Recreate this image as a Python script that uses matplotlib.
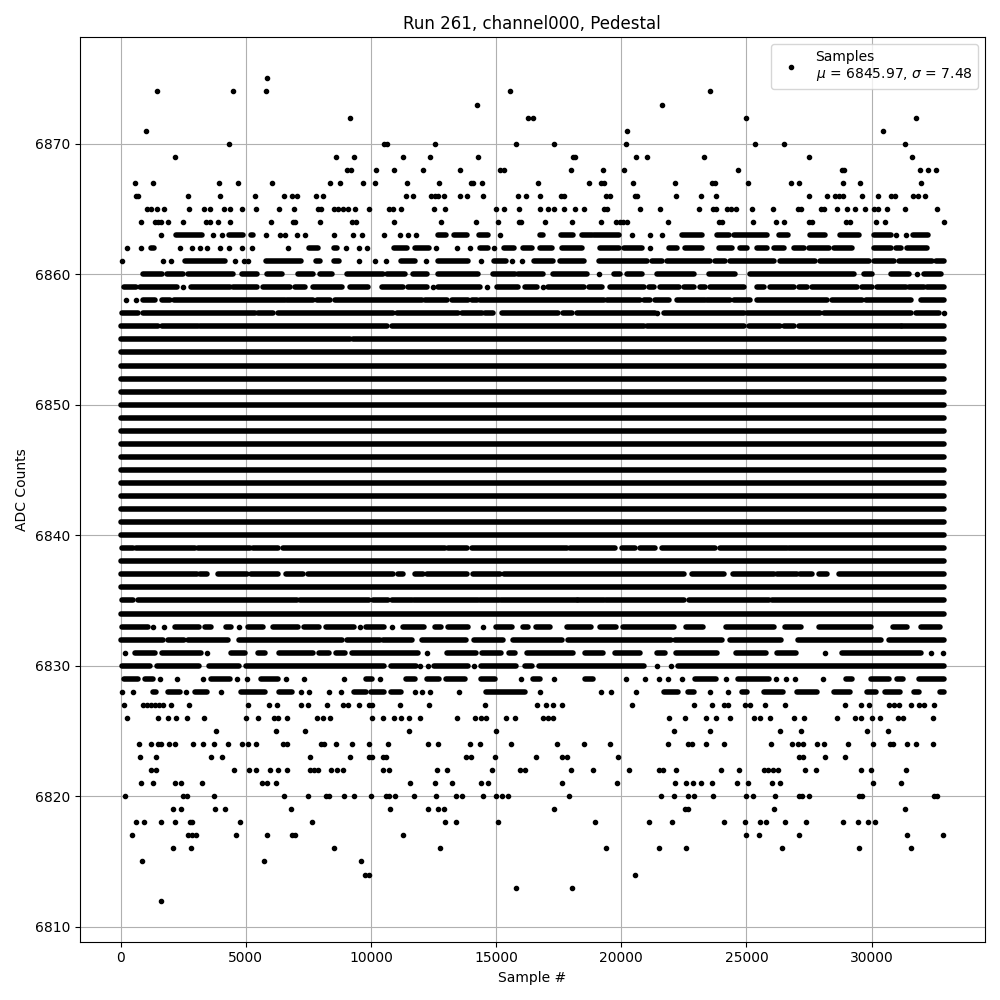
import matplotlib.pyplot as plt
from matplotlib.collections import LineCollection

# pedestal run, values
n_last = 32890          # last sample index
mu = 6845.97
sigma = 7.48

# ADC codes that are hit all along the run
full_levels = [6834, 6836, 6838, 6840, 6841, 6842, 6843, 6844, 6845, 6846, 6847,
               6848, 6849, 6850, 6851, 6852, 6853, 6854]

# sparse codes: sample numbers of the single hits
dots = {
    6875: [5850],
    6874: [1450, 4490, 5810, 15570, 23530],
    6873: [14250, 21610],
    6872: [9170, 16290, 16490, 24970, 31770],
    6871: [1010, 20210, 30450],
    6870: [4330, 10530, 10650, 12570, 15810, 17330, 20170, 25330, 26490, 31330],
    6869: [2170, 8610, 9330, 11260, 12370, 14290, 18090, 18170, 20570, 21010, 23290,
           27490, 31610],
    6868: [9050, 9210, 10210, 10930, 12090, 13570, 15170, 15330, 18010, 19250, 20090,
           24650, 28810, 28890, 31930, 32250, 32570],
    6867: [570, 1290, 3930, 4690, 6050, 8370, 8770, 9690, 10170, 11450, 12730, 14010,
           14090, 14450, 16690, 18690, 19170, 19290, 20450, 22130, 23610, 23730, 25050,
           26770, 27090, 28850, 29530, 31970],
    6866: [610, 690, 2690, 3970, 5370, 6530, 6850, 7050, 7810, 8090, 11410, 11690,
           12410, 12570, 12690, 12930, 13570, 13850, 14490, 15890, 16210, 16770, 17610,
           17730, 19370, 19530, 20530, 20610, 22170, 23170, 23770, 27490, 28210, 28530,
           28690, 28850, 29610, 30250, 30770, 30930, 31650, 31850, 32130],
    6865: [1050, 1190, 1450, 1730, 2730, 3330, 3570, 4130, 4370, 4850, 5410, 6330,
           6930, 7890, 8010, 8530, 8690, 8890, 9090, 9370, 9930, 10730, 10890, 11210,
           12530, 12970, 15010, 15330, 15930, 16770, 17090, 17330, 17730, 18170, 18490,
           19290, 19410, 20730, 21530, 23090, 23650, 23770, 24210, 24390, 24570, 25210,
           26050, 27050, 27170, 27970, 28090, 28610, 29010, 29330, 29730, 30090, 30250,
           30610, 31330, 32610],
    6864: [810, 1370, 1490, 1610, 1890, 2490, 3410, 3570, 3890, 4370, 6010, 6890,
           6970, 7970, 9250, 9410, 10930, 12810, 14210, 15090, 15930, 16010, 16970,
           18050, 19170, 19770, 19930, 20050, 20210, 21850, 23890, 24010, 25250, 26170,
           26490, 27490, 27610, 28970, 29130, 30170, 30530, 32880],
    6827: [133, 893, 1053, 1213, 1373, 1533, 1693, 2013, 2733, 5093, 5933, 6253, 7210,
           7490, 8250, 8890, 9090, 9530, 9930, 10050, 11170, 12330, 14570, 16650, 17010,
           17290, 17650, 20410, 22890, 23610, 24090, 24250, 24930, 25130, 25730, 26530,
           28930, 29570, 29890, 30690, 30890, 31090, 31570, 31890, 32090, 32490],
    6826: [253, 1493, 1893, 2213, 2653, 3333, 5013, 5493, 6133, 6293, 6653, 7850, 8090,
           8370, 10050, 10490, 10930, 11210, 11530, 11970, 13450, 14170, 14410, 14610,
           15410, 15770, 16890, 17090, 17290, 21890, 22530, 23370, 23770, 24330, 25290,
           25530, 25930, 26890, 27290, 28610, 29330, 29570, 30010, 30330, 31050, 31250,
           32450],
    6825: [3813, 6213, 7370, 11530, 15010, 22090, 23530, 26330, 27170, 29810, 30650],
    6824: [733, 1213, 1493, 1613, 1933, 2173, 2893, 3293, 3733, 4293, 4853, 5093, 5413,
           6493, 6653, 8013, 8130, 8610, 9250, 9930, 10690, 12290, 12690, 13970, 14370,
           15610, 17450, 18490, 19530, 21850, 22650, 22810, 23370, 24090, 25970, 26810,
           27050, 27250, 27810, 28090, 29050, 30050, 30730, 30850, 31410, 31770, 32450],
    6823: [773, 1413, 3613, 4053, 7570, 9170, 9930, 10050, 10490, 10610, 13810, 14010,
           14970, 16610, 17650, 17850, 19850, 27090, 27250, 28130, 28930],
    6822: [1213, 1413, 4533, 5133, 5413, 5973, 6293, 6653, 7570, 7730, 7890, 8410, 8650,
           8890, 10490, 10730, 12650, 13050, 14850, 15970, 16170, 18010, 18850, 20290,
           21490, 21650, 22170, 23970, 24690, 25690, 25850, 26050, 26250, 27330, 27770,
           29570, 29970, 31370],
    6821: [813, 1293, 2173, 2413, 3253, 5653, 5853, 6213, 11570, 12570, 13250, 14410,
           14690, 17650, 19810, 22130, 22570, 22850, 23170, 23610, 24610, 25050, 26010,
           26330, 30050, 31170],
    6820: [173, 2493, 2653, 3733, 6533, 7493, 8210, 8330, 8930, 9330, 10010, 10610,
           10730, 10970, 11730, 12610, 13410, 13650, 14490, 15010, 15250, 15490, 17930,
           21570, 22090, 22650, 22890, 23650, 24970, 25250, 26130, 27090, 27210, 27490,
           29490, 29610, 32490, 32610],
    6819: [2093, 2413, 3773, 4173, 6813, 10770, 12290, 12690, 12930, 17330, 22530,
           22650, 26090, 31330],
    6818: [613, 933, 1613, 2173, 2773, 2853, 4773, 7650, 12970, 13410, 15090, 18930,
           21090, 22010, 24090, 24930, 25530, 25770, 26530, 27370, 28850, 29450, 29850,
           30130],
    6817: [453, 2693, 2853, 3013, 4613, 5853, 6853, 6973, 11290, 24970, 25490, 27090,
           31410, 32850],
    6816: [2093, 2813, 8530, 12770, 19370, 21490, 22570, 26410, 29490, 31570],
    6815: [853, 5730, 9610],
    6814: [9770, 9930, 20530],
    6813: [15810, 18050],
    6812: [1613],
}

# busier codes: (first, last) sample of each stretch that is filled
runs = {
    6863: [(1610, 1610), (2210, 3250), (3690, 3690), (4050, 4050), (4330, 4890),
           (5210, 5290), (5810, 5810), (6370, 6370), (6570, 6570), (7050, 7050),
           (7370, 7370), (8530, 8530), (9290, 9290), (9650, 9650), (10530, 10530),
           (11170, 11170), (11490, 11490), (11810, 11810), (12690, 13010), (13330, 13850),
           (14330, 14690), (15170, 15170), (16770, 16890), (17610, 18090), (18450, 18810),
           (18890, 19890), (20410, 20410), (21130, 21130), (21610, 21610), (22410, 23210),
           (23810, 24290), (24490, 25810), (26290, 26650), (27530, 28130), (28730, 29490),
           (30090, 30770), (30970, 30970), (31370, 31370), (31650, 32250)],
    6862: [(253, 253), (813, 813), (1213, 1333), (2373, 2373), (2853, 2853), (3173, 3173),
           (3453, 3453), (3973, 3973), (4333, 4333), (4853, 4853), (5253, 5253),
           (6693, 6693), (7533, 7893), (8533, 8653), (9013, 9013), (9533, 9533),
           (9853, 9853), (10933, 11453), (11773, 12333), (12613, 12613), (13453, 13453),
           (13973, 13973), (14373, 14693), (14933, 14933), (15333, 15693), (16053, 16413),
           (16733, 17230), (17630, 18430), (19160, 19890), (20090, 20830), (21160, 21160),
           (21890, 22230), (22560, 23230), (23890, 24430), (24760, 25030), (25430, 25830),
           (26090, 26490), (26890, 27290), (27490, 28290), (28490, 29230), (30090, 30760),
           (30960, 31160), (31430, 32230)],
    6861: [(53, 53), (1693, 1693), (2013, 2013), (2573, 4173), (4573, 4573), (4933, 4933),
           (5093, 5093), (5813, 7213), (7813, 7973), (8533, 8733), (9533, 9533),
           (10173, 10173), (10613, 10613), (11213, 11773), (12213, 12213), (12693, 13893),
           (14413, 14413), (14933, 15373), (15613, 15613), (16013, 16013), (16493, 17290),
           (17560, 18490), (19090, 21030), (21230, 21630), (21830, 23560), (23760, 24160),
           (24360, 26090), (26360, 27760), (27960, 29890), (30090, 30890), (31090, 32430),
           (32560, 32890)],
    6860: [(893, 1630), (1830, 2490), (2690, 4490), (4830, 5430), (5830, 6430),
           (7090, 7690), (7960, 8430), (9020, 10490), (10630, 11360), (11690, 12230),
           (12690, 14290), (14890, 15760), (15890, 16890), (17290, 18630), (19090, 19090),
           (19690, 19960), (20230, 20830), (21430, 22890), (23490, 24560), (25160, 29290),
           (29690, 30020), (30760, 31490), (31830, 31830), (32090, 32760)],
    6859: [(120, 627), (786, 2250), (2490, 2490), (2820, 4360), (4490, 5430), (5690, 6760),
           (6960, 7360), (7690, 8830), (9160, 9890), (10430, 11290), (11490, 12230),
           (12470, 12470), (12690, 14360), (14650, 14650), (15030, 15890), (16160, 16630),
           (16870, 16870), (17090, 18490), (18690, 19230), (19560, 20890), (21090, 21290),
           (21560, 22290), (22490, 22890), (23160, 23360), (23560, 24890), (25430, 25690),
           (25960, 26890), (27090, 27430), (27630, 29430), (29620, 30020), (30220, 31360),
           (31490, 32090), (32230, 32890)],
    6858: [(227, 227), (627, 627), (893, 1360), (1630, 1960), (2120, 6560), (6630, 7690),
           (7830, 8360), (8560, 12030), (12160, 13030), (13230, 13890), (14030, 14230),
           (14360, 19290), (19430, 20760), (20890, 21160), (21360, 21890), (22220, 23360),
           (23430, 24360), (24490, 25160), (25430, 28220), (28420, 29620), (29760, 31560),
           (31960, 32890)],
    6857: [(30, 690), (890, 5350), (5490, 6090), (6290, 10890), (11030, 13490),
           (13630, 14430), (14560, 14890), (15230, 17490), (17690, 18030), (18230, 21360),
           (21430, 21430), (21690, 24890), (25030, 27960), (28090, 31560), (31760, 32690),
           (32890, 32890)],
    6856: [(0, 1490), (1630, 3090), (3160, 10630), (10830, 20890), (21030, 24890),
           (25090, 26360), (26490, 26890), (27090, 31160), (31230, 32890)],
    6855: [(0, 9160), (9290, 30050), (30130, 32890)],
    6839: [(53, 490), (600, 2960), (3090, 5160), (5290, 6290), (6470, 12960),
           (13090, 13830), (14030, 17830), (17960, 19760), (20030, 20560), (20760, 21360),
           (21630, 23760), (23960, 26630), (26690, 32890)],
    6837: [(0, 3030), (3160, 3450), (3890, 5030), (5190, 6290), (6610, 7290),
           (7490, 10890), (11090, 11290), (11770, 12090), (12250, 13830), (14090, 15160),
           (15330, 22490), (22830, 24090), (24450, 26090), (26230, 27030), (27160, 27630),
           (27890, 28230), (28690, 32890)],
    6835: [(53, 490), (690, 7030), (7160, 9930), (10090, 10690), (10830, 11650),
           (11730, 14290), (14370, 15130), (15210, 18230), (18290, 19290), (19370, 22490),
           (22690, 25890), (26030, 32890)],
    6833: [(53, 1093), (1293, 1293), (1733, 1733), (2173, 3133), (3373, 3613),
           (4213, 4413), (4733, 4733), (5093, 5693), (6093, 7090), (7330, 7930),
           (8210, 9330), (9570, 9570), (9810, 10530), (10850, 10850), (11290, 12130),
           (12570, 12810), (13090, 13890), (14490, 14490), (15010, 15650), (16090, 16290),
           (16610, 17160), (17850, 18770), (19130, 19770), (20050, 22090), (22570, 23250),
           (24170, 26090), (26530, 27170), (27890, 29970), (30850, 31410), (31970, 32730)],
    6832: [(0, 1693), (1893, 2533), (2693, 4290), (4733, 8850), (9050, 10370),
           (10490, 11650), (12050, 13810), (14130, 15290), (15690, 17650), (17890, 21970),
           (22130, 24010), (24330, 26370), (27050, 30370), (30690, 32890)],
    6831: [(173, 173), (573, 1373), (1653, 3213), (3453, 3453), (4413, 4973), (5493, 5773),
           (6333, 7690), (7930, 8330), (8610, 8970), (9250, 11890), (12250, 12250),
           (13050, 14210), (14450, 15210), (15530, 15770), (16250, 18090), (18530, 19250),
           (19730, 20730), (21410, 21730), (22170, 23810), (24570, 25770), (26210, 26970),
           (28130, 28130), (28810, 31970), (32370, 32370), (32850, 32850)],
    6830: [(53, 1173), (1453, 3133), (3533, 4733), (5013, 10530), (10810, 11810),
           (11970, 11970), (12290, 12290), (12530, 13890), (14130, 14130), (14410, 15810),
           (16170, 16440), (16730, 20890), (21410, 21410), (21970, 21970), (22250, 32890)],
    6829: [(133, 693), (973, 1293), (1573, 1573), (2253, 2253), (3293, 3293), (3613, 4373),
           (4653, 4653), (5053, 5053), (5613, 6293), (6613, 6613), (7330, 7330),
           (8930, 8930), (9810, 10050), (10370, 10370), (11410, 11770), (12250, 12730),
           (13010, 13770), (14410, 14970), (16010, 16010), (16490, 16770), (17330, 17330),
           (18530, 18850), (20170, 20170), (20930, 20930), (21490, 21490), (21850, 21850),
           (22410, 22410), (22930, 23770), (24170, 24170), (24650, 25890), (26170, 26170),
           (26570, 26570), (26930, 26930), (28050, 28050), (28970, 29210), (29970, 30690),
           (31010, 31250), (31890, 32890)],
    6828: [(53, 53), (493, 493), (1293, 1413), (1893, 2373), (2613, 2613), (2973, 3453),
           (4013, 4013), (4810, 5770), (6333, 6853), (7210, 7210), (7530, 7530),
           (8330, 8330), (8810, 8810), (9330, 9810), (10010, 10530), (10810, 11210),
           (11770, 11770), (12050, 12050), (12370, 12370), (13530, 13530), (14610, 16170),
           (16770, 16770), (19170, 19170), (19570, 19570), (20570, 20570), (21690, 22250),
           (22650, 22890), (23530, 23530), (24250, 24250), (24810, 25010), (25690, 26450),
           (27010, 27810), (28490, 29130), (29810, 30170), (30530, 31130), (31690, 31890),
           (32730, 32890)],
}

fig, ax = plt.subplots(figsize=(10, 10))

segs = []
xs, ys = [], []
for lvl in full_levels:
    segs.append([(0, lvl), (n_last, lvl)])
for lvl, rr in runs.items():
    for a, b in rr:
        if b > a:
            segs.append([(a, lvl), (b, lvl)])
        else:
            xs.append(a)
            ys.append(lvl)
for lvl, pts in dots.items():
    xs += pts
    ys += [lvl] * len(pts)

# stretches of back-to-back samples drawn as thick round-capped strokes
ax.add_collection(LineCollection(segs, colors='k', linewidths=4, capstyle='round'))
ax.plot(xs, ys, 'k.', label=f'Samples\n$\\mu$ = {mu:.2f}, $\\sigma$ = {sigma:.2f}')
ax.autoscale_view()

ax.set_title('Run 261, channel000, Pedestal')
ax.set_xlabel('Sample #')
ax.set_ylabel('ADC Counts')
ax.grid(True)
ax.legend(loc='upper right')

fig.tight_layout()
fig.savefig('out.png', dpi=100)
